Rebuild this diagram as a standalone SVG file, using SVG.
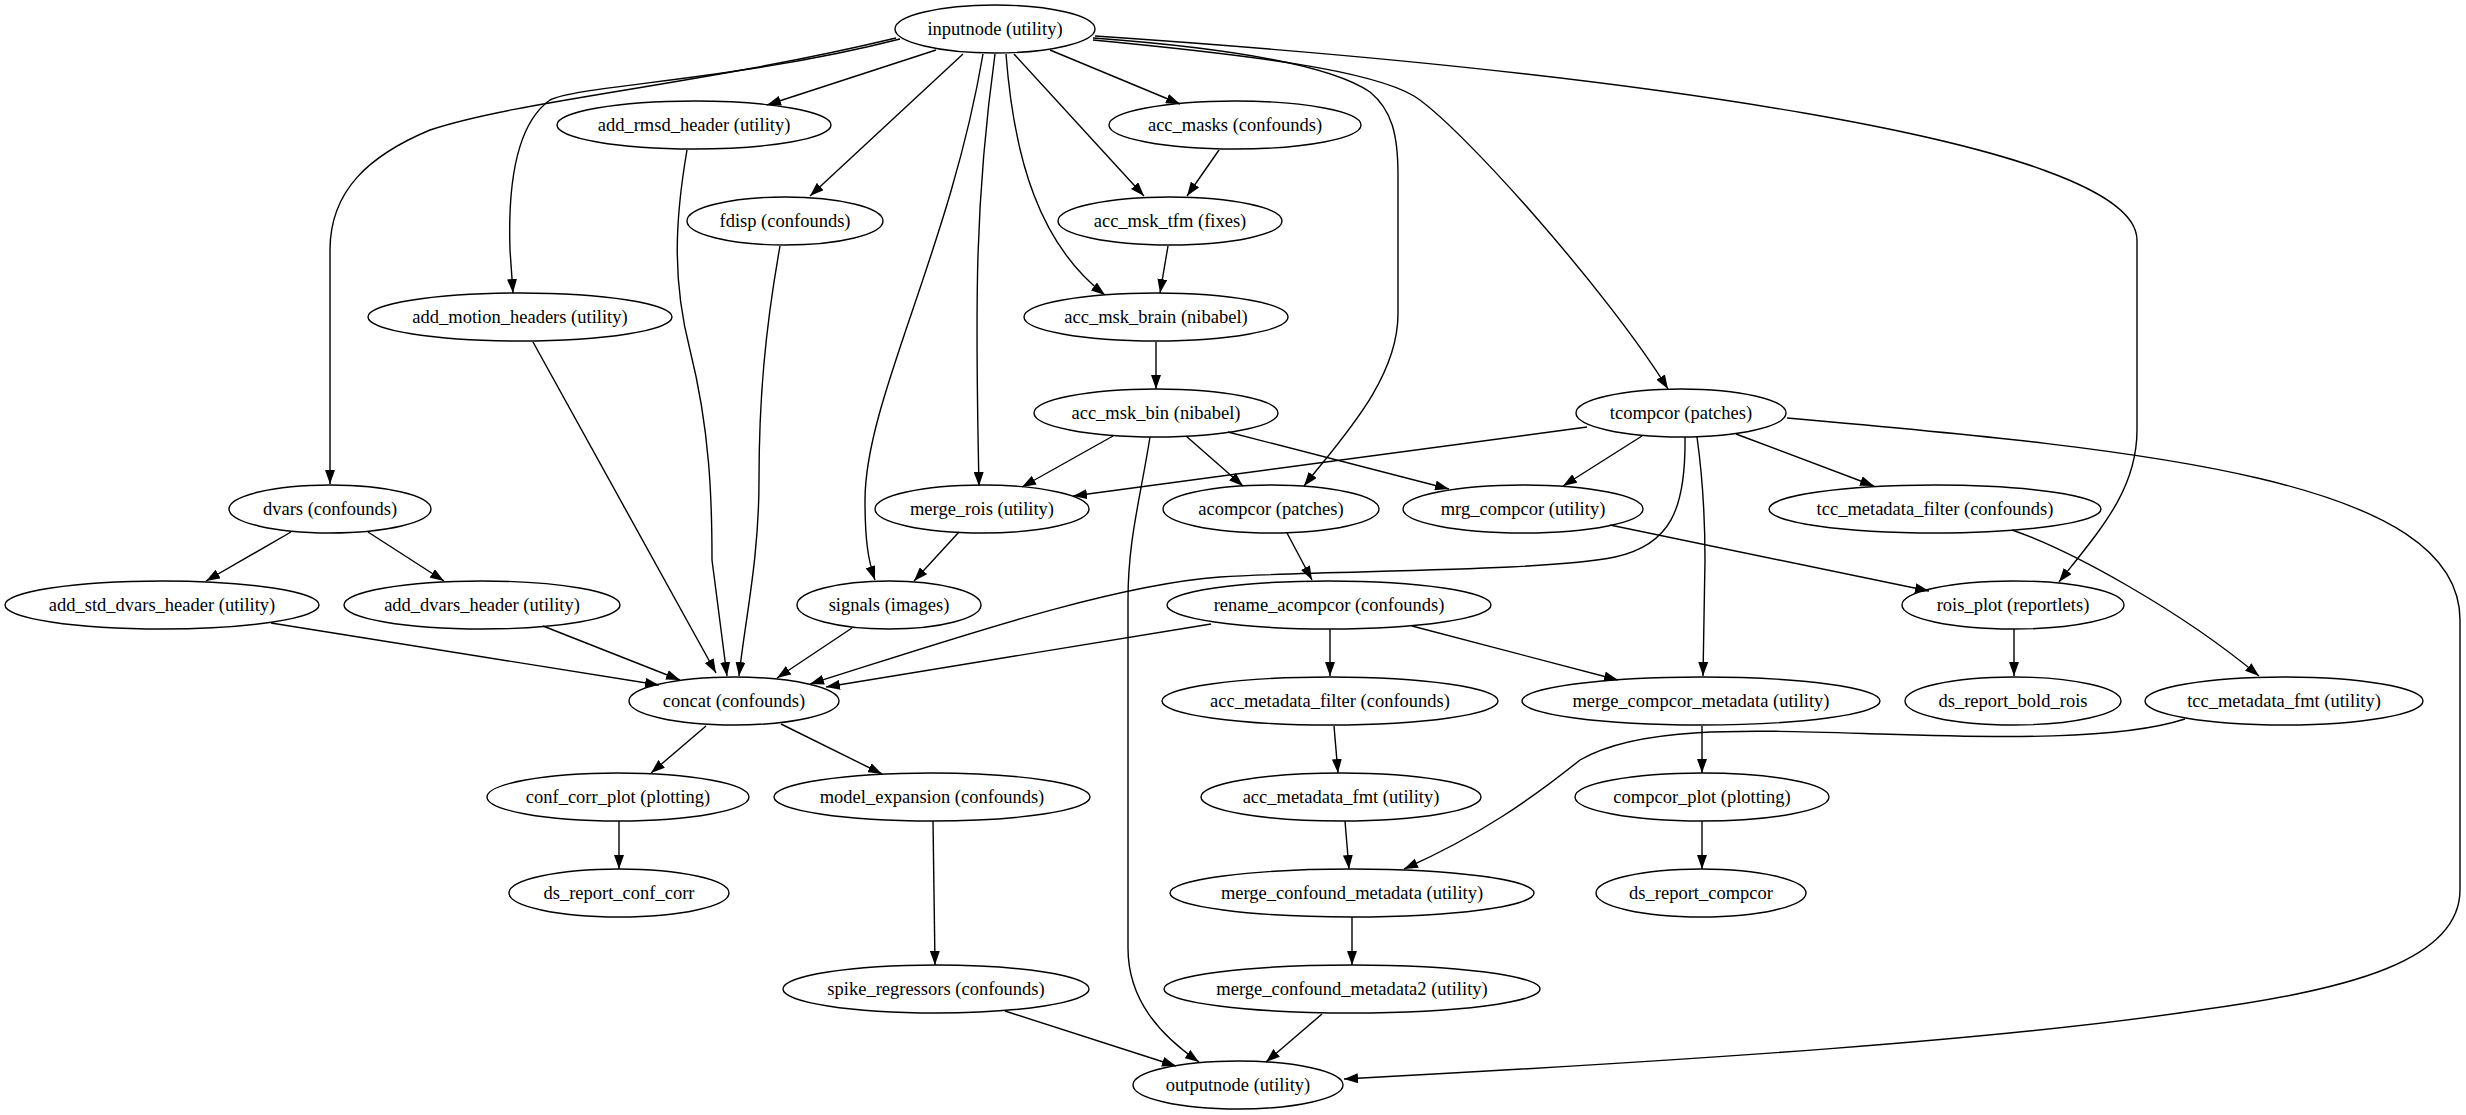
<svg xmlns="http://www.w3.org/2000/svg" width="2466" height="1115" viewBox="0 0 2466 1115">
<style>
.n ellipse{fill:none;stroke:#000;stroke-width:1.4}
.n text{font-family:"Liberation Serif",serif;font-size:18.5px;text-anchor:middle;fill:#000}
#edges path{fill:none;stroke:#000;stroke-width:1.4;marker-end:url(#ah)}
</style>
<defs>
<marker id="ah" markerUnits="userSpaceOnUse" viewBox="0 0 14 10" refX="14" refY="5" markerWidth="14" markerHeight="10" orient="auto">
<path d="M0,0 L14,5 L0,10 z" fill="#000"/>
</marker>
</defs>
<rect width="2466" height="1115" fill="#fff"/>
<g id="edges">
<path d="M936,50 L767,105"/>
<path d="M1050,50 L1180,104"/>
<path d="M963,54 L810,196"/>
<path d="M1014,54 L1144,196"/>
<path d="M1006,54 C1014,160 1040,245 1105,295"/>
<path d="M900,39 C740,80 580,85 550,100 C515,125 508,190 510,250 L513,293"/>
<path d="M896,38 C700,85 520,100 430,130 C370,155 330,190 330,250 L330,484"/>
<path d="M995,54 C975,200 975,300 979,486"/>
<path d="M983,54 C950,250 865,400 865,500 C865,540 868,560 875,580"/>
<path d="M1093,38 C1230,48 1330,65 1370,92 C1392,110 1398,135 1398,175 L1398,314 C1398,380 1340,440 1304,486"/>
<path d="M1093,40 C1250,55 1370,70 1414,96 C1460,125 1608,292 1668,389"/>
<path d="M1095,36 C1600,70 2137,140 2137,240 L2137,430 C2137,490 2100,530 2059,582"/>
<path d="M1219,150 L1187,196"/>
<path d="M1168,246 L1160,293"/>
<path d="M1156,342 L1156,389"/>
<path d="M1113,436 L1022,487"/>
<path d="M1186,436 L1243,486"/>
<path d="M1228,432 L1449,489"/>
<path d="M1150,437 C1140,500 1128,540 1128,600 L1128,948 C1128,1000 1160,1035 1199,1062"/>
<path d="M1587,427 L1073,496"/>
<path d="M1642,436 L1563,486"/>
<path d="M1736,434 L1874,486"/>
<path d="M1685,437 C1686,510 1670,545 1615,557 C1540,572 1330,570 1220,577 C1110,585 950,640 810,684"/>
<path d="M1697,437 C1703,480 1705,520 1705,560 L1703,676"/>
<path d="M1787,418 C2150,450 2460,480 2460,620 L2460,890 C2460,960 2350,990 2200,1010 C2000,1040 1700,1060 1344,1079"/>
<path d="M959,532 L914,581"/>
<path d="M1287,533 L1312,580"/>
<path d="M1610,525 L1929,591"/>
<path d="M2012,530 C2070,550 2180,610 2259,676"/>
<path d="M291,532 L206,581"/>
<path d="M368,532 L444,581"/>
<path d="M271,623 L659,685"/>
<path d="M543,626 L680,680"/>
<path d="M852,628 L777,678"/>
<path d="M1211,624 L826,687"/>
<path d="M1330,629 L1330,676"/>
<path d="M1412,626 L1618,680"/>
<path d="M533,342 L716,673"/>
<path d="M687,150 C675,220 672,280 690,350 C710,430 712,500 712,560 L727,676"/>
<path d="M780,246 C765,330 759,400 759,480 C759,560 745,620 739,676"/>
<path d="M2014,629 L2014,676"/>
<path d="M706,726 L651,773"/>
<path d="M781,724 L882,774"/>
<path d="M1334,726 L1338,773"/>
<path d="M1702,726 L1702,773"/>
<path d="M2185,719 C2120,740 2000,738 1880,734 C1750,730 1640,725 1580,760 C1530,800 1480,835 1404,869"/>
<path d="M1345,821 L1349,869"/>
<path d="M619,821 L619,869"/>
<path d="M1702,821 L1702,869"/>
<path d="M933,821 L935,965"/>
<path d="M1352,917 L1352,965"/>
<path d="M1005,1011 L1176,1066"/>
<path d="M1322,1014 L1266,1062"/>
</g>
<g id="inputnode" class="n"><ellipse cx="995" cy="29" rx="100" ry="24"/><text x="995" y="35">inputnode (utility)</text></g>
<g id="add_rmsd_header" class="n"><ellipse cx="694" cy="125" rx="137" ry="24"/><text x="694" y="131">add_rmsd_header (utility)</text></g>
<g id="acc_masks" class="n"><ellipse cx="1235" cy="125" rx="126" ry="24"/><text x="1235" y="131">acc_masks (confounds)</text></g>
<g id="fdisp" class="n"><ellipse cx="785" cy="221" rx="98" ry="24"/><text x="785" y="227">fdisp (confounds)</text></g>
<g id="acc_msk_tfm" class="n"><ellipse cx="1170" cy="221" rx="112" ry="24"/><text x="1170" y="227">acc_msk_tfm (fixes)</text></g>
<g id="add_motion_headers" class="n"><ellipse cx="520" cy="317" rx="152" ry="24"/><text x="520" y="323">add_motion_headers (utility)</text></g>
<g id="acc_msk_brain" class="n"><ellipse cx="1156" cy="317" rx="132" ry="24"/><text x="1156" y="323">acc_msk_brain (nibabel)</text></g>
<g id="acc_msk_bin" class="n"><ellipse cx="1156" cy="413" rx="122" ry="24"/><text x="1156" y="419">acc_msk_bin (nibabel)</text></g>
<g id="tcompcor" class="n"><ellipse cx="1681" cy="413" rx="105" ry="24"/><text x="1681" y="419">tcompcor (patches)</text></g>
<g id="dvars" class="n"><ellipse cx="330" cy="509" rx="101" ry="24"/><text x="330" y="515">dvars (confounds)</text></g>
<g id="merge_rois" class="n"><ellipse cx="982" cy="509" rx="107" ry="24"/><text x="982" y="515">merge_rois (utility)</text></g>
<g id="acompcor" class="n"><ellipse cx="1271" cy="509" rx="108" ry="24"/><text x="1271" y="515">acompcor (patches)</text></g>
<g id="mrg_compcor" class="n"><ellipse cx="1523" cy="509" rx="120" ry="24"/><text x="1523" y="515">mrg_compcor (utility)</text></g>
<g id="tcc_metadata_filter" class="n"><ellipse cx="1935" cy="509" rx="166" ry="24"/><text x="1935" y="515">tcc_metadata_filter (confounds)</text></g>
<g id="add_std_dvars_header" class="n"><ellipse cx="162" cy="605" rx="157" ry="24"/><text x="162" y="611">add_std_dvars_header (utility)</text></g>
<g id="add_dvars_header" class="n"><ellipse cx="482" cy="605" rx="138" ry="24"/><text x="482" y="611">add_dvars_header (utility)</text></g>
<g id="signals" class="n"><ellipse cx="889" cy="605" rx="92" ry="24"/><text x="889" y="611">signals (images)</text></g>
<g id="rename_acompcor" class="n"><ellipse cx="1329" cy="605" rx="162" ry="24"/><text x="1329" y="611">rename_acompcor (confounds)</text></g>
<g id="rois_plot" class="n"><ellipse cx="2013" cy="605" rx="111" ry="24"/><text x="2013" y="611">rois_plot (reportlets)</text></g>
<g id="concat" class="n"><ellipse cx="734" cy="701" rx="105" ry="24"/><text x="734" y="707">concat (confounds)</text></g>
<g id="acc_metadata_filter" class="n"><ellipse cx="1330" cy="701" rx="168" ry="24"/><text x="1330" y="707">acc_metadata_filter (confounds)</text></g>
<g id="merge_compcor_metadata" class="n"><ellipse cx="1701" cy="701" rx="179" ry="24"/><text x="1701" y="707">merge_compcor_metadata (utility)</text></g>
<g id="ds_report_bold_rois" class="n"><ellipse cx="2013" cy="701" rx="108" ry="24"/><text x="2013" y="707">ds_report_bold_rois</text></g>
<g id="tcc_metadata_fmt" class="n"><ellipse cx="2284" cy="701" rx="139" ry="24"/><text x="2284" y="707">tcc_metadata_fmt (utility)</text></g>
<g id="conf_corr_plot" class="n"><ellipse cx="618" cy="797" rx="131" ry="24"/><text x="618" y="803">conf_corr_plot (plotting)</text></g>
<g id="model_expansion" class="n"><ellipse cx="932" cy="797" rx="158" ry="24"/><text x="932" y="803">model_expansion (confounds)</text></g>
<g id="acc_metadata_fmt" class="n"><ellipse cx="1341" cy="797" rx="140" ry="24"/><text x="1341" y="803">acc_metadata_fmt (utility)</text></g>
<g id="compcor_plot" class="n"><ellipse cx="1702" cy="797" rx="127" ry="24"/><text x="1702" y="803">compcor_plot (plotting)</text></g>
<g id="ds_report_conf_corr" class="n"><ellipse cx="619" cy="893" rx="110" ry="24"/><text x="619" y="899">ds_report_conf_corr</text></g>
<g id="merge_confound_metadata" class="n"><ellipse cx="1352" cy="893" rx="182" ry="24"/><text x="1352" y="899">merge_confound_metadata (utility)</text></g>
<g id="ds_report_compcor" class="n"><ellipse cx="1701" cy="893" rx="105" ry="24"/><text x="1701" y="899">ds_report_compcor</text></g>
<g id="spike_regressors" class="n"><ellipse cx="936" cy="989" rx="153" ry="24"/><text x="936" y="995">spike_regressors (confounds)</text></g>
<g id="merge_confound_metadata2" class="n"><ellipse cx="1352" cy="989" rx="188" ry="24"/><text x="1352" y="995">merge_confound_metadata2 (utility)</text></g>
<g id="outputnode" class="n"><ellipse cx="1238" cy="1085" rx="105" ry="24"/><text x="1238" y="1091">outputnode (utility)</text></g>
</svg>
